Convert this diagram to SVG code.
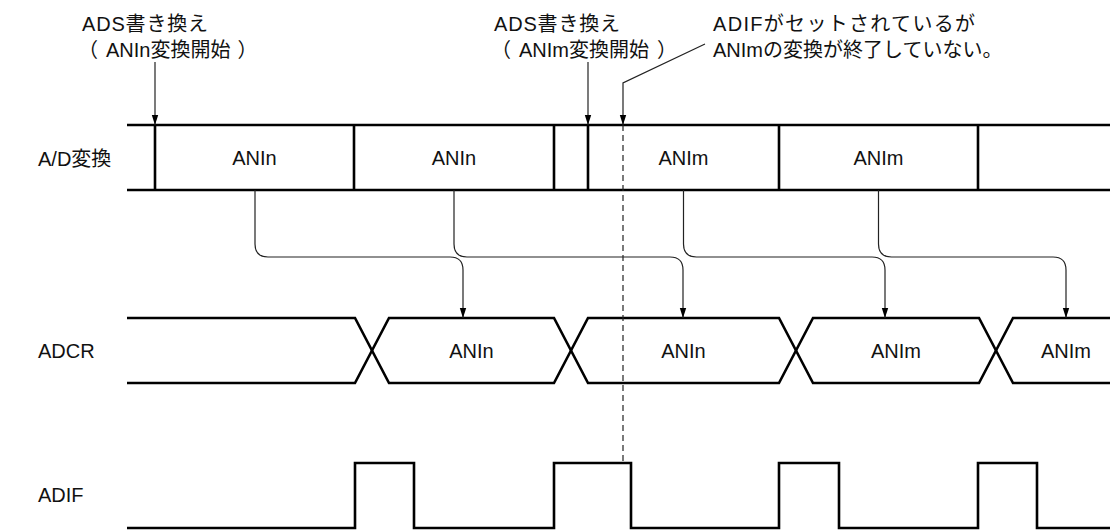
<svg xmlns="http://www.w3.org/2000/svg" width="1110" height="530" viewBox="0 0 1110 530">
<style>
text{font-family:"Liberation Sans","Noto Sans CJK JP",Arial,sans-serif;font-size:20px;fill:#111}
.c{text-anchor:middle}
.sig{fill:none;stroke:#000;stroke-width:2.6}
.con{fill:none;stroke:#222;stroke-width:1.2}
.dash{fill:none;stroke:#222;stroke-width:1.2;stroke-dasharray:6,4}
</style>
<defs>
<marker id="ah" viewBox="0 0 10 10" refX="10" refY="5" markerWidth="10" markerHeight="10" markerUnits="userSpaceOnUse" orient="auto">
<path d="M0,1.8 L10,5 L0,8.2 Z" fill="#000"/>
</marker>
</defs>
<rect width="1110" height="530" fill="#fff"/>

<g id="labels">
<text x="38" y="166">A/D変換</text>
<text x="38" y="358">ADCR</text>
<text x="38" y="502">ADIF</text>
</g>

<g id="ad-row">
<path class="sig" d="M127,125 H1110 M127,190 H1110 M155,125 V190 M354,125 V190 M554,125 V190 M588,125 V190 M779,125 V190 M978,125 V190"/>
<text class="c" x="254.5" y="165">ANIn</text>
<text class="c" x="454" y="165">ANIn</text>
<text class="c" x="683.5" y="165">ANIm</text>
<text class="c" x="878.5" y="165">ANIm</text>
</g>

<g id="adcr-row">
<path class="sig" d="M127,318 H355 L389,383 H554 L588,318 H779 L813,383 H979 L1013,318 H1110"/>
<path class="sig" d="M127,383 H355 L389,318 H554 L588,383 H779 L813,318 H979 L1013,383 H1110"/>
<text class="c" x="471.5" y="358">ANIn</text>
<text class="c" x="683.5" y="358">ANIn</text>
<text class="c" x="896" y="358">ANIm</text>
<text class="c" x="1066" y="358">ANIm</text>
</g>

<g id="adif-row">
<path class="sig" d="M127,528 H355 V463 H414 V528 H554 V463 H631 V528 H779 V463 H839 V528 H978 V463 H1037 V528 H1110"/>
</g>

<g id="note1">
<text x="82" y="31" textLength="126">ADS書き換え</text>
<text x="78" y="57">（<tspan dx="8">ANIn変換開始</tspan><tspan dx="7">）</tspan></text>
</g>
<g id="note2">
<text x="494" y="31" textLength="126">ADS書き換え</text>
<text x="491" y="57">（<tspan dx="8">ANIm変換開始</tspan><tspan dx="8">）</tspan></text>
</g>
<g id="note3">
<text x="713" y="31" textLength="262">ADIFがセットされているが</text>
<text x="713" y="57">ANImの変換が終了していない。</text>
</g>

<g id="connectors">
<path class="con" d="M155,62 V125" marker-end="url(#ah)"/>
<path class="con" d="M588,62 V125" marker-end="url(#ah)"/>
<path class="con" d="M705,44 L623,83 V125" marker-end="url(#ah)"/>
<path class="dash" d="M623,125 V463"/>
<path class="con" d="M255,190 V244 Q255,257 268,257 H450 Q463,257 463,270 V318" marker-end="url(#ah)"/>
<path class="con" d="M454,190 V244 Q454,257 467,257 H670 Q683,257 683,270 V318" marker-end="url(#ah)"/>
<path class="con" d="M683.5,190 V244 Q683.5,257 696.5,257 H872 Q885,257 885,270 V318" marker-end="url(#ah)"/>
<path class="con" d="M878.5,190 V244 Q878.5,257 891.5,257 H1053 Q1066,257 1066,270 V318" marker-end="url(#ah)"/>
</g>
</svg>
